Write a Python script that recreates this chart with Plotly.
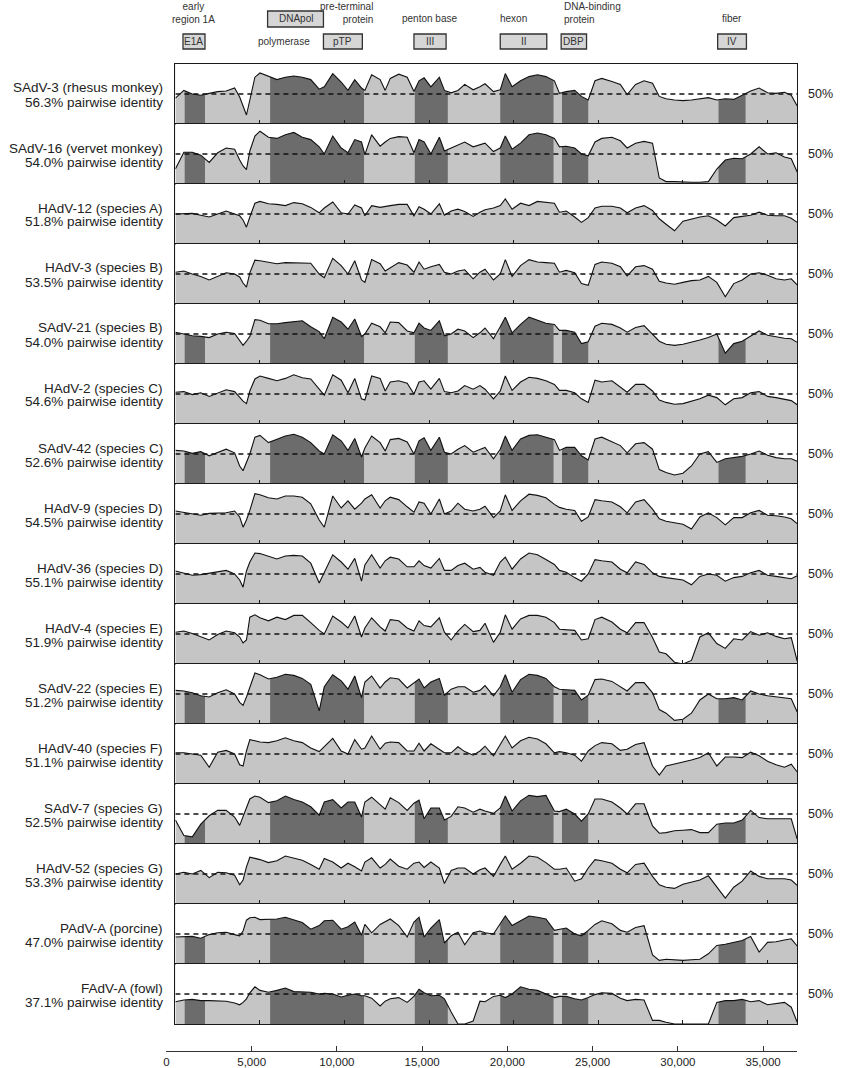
import plotly.graph_objects as go

W, H = 849, 1068
LIGHT = "#c5c5c5"
DARK = "#6c6c6c"
INK = "#1a1a1a"
FONT = "Arial, Liberation Sans, sans-serif"

# genome positions (bp) at which identity values were read
positions = [0, 500, 1000, 1500, 2000, 2500, 3000, 3500, 3800, 4000,
             4200, 4400, 4700, 5000, 5500, 6000, 6500, 7000, 7500, 8000,
             8500, 8800, 9300, 9800, 10200, 10600, 11000, 11200, 11600, 12100,
             12400, 12700, 13200, 13700, 14100, 14400, 14700, 15100, 15600, 15900,
             16300, 16700, 17100, 17600, 18000, 18300, 18800, 19200, 19500, 19900,
             20400, 20900, 21400, 21900, 22400, 22700, 23100, 23600, 24000, 24400,
             24800, 25200, 25800, 26300, 26700, 27200, 27700, 28200, 28600, 29000,
             29500, 30000, 30500, 31000, 31500, 32000, 32500, 33000, 33500, 34000,
             34500, 35000, 35500, 36000, 36400, 36750]

virus_names = ["SAdV-3 (rhesus monkey)", "SAdV-16 (vervet monkey)", "HAdV-12 (species A)",
               "HAdV-3 (species B)", "SAdV-21 (species B)", "HAdV-2 (species C)",
               "SAdV-42 (species C)", "HAdV-9 (species D)", "HAdV-36 (species D)",
               "HAdV-4 (species E)", "SAdV-22 (species E)", "HAdV-40 (species F)",
               "SAdV-7 (species G)", "HAdV-52 (species G)", "PAdV-A (porcine)", "FAdV-A (fowl)"]
pairwise_identity = [56.3, 54.0, 51.8, 53.5, 54.0, 54.6, 52.6, 54.5, 55.1, 51.9,
                     51.2, 51.1, 52.5, 53.3, 47.0, 37.1]
highlighted = [True, True, False, False, True, False, True, False, False, False,
               True, False, True, False, True, True]

sadv3 = [43,56,50,48,51,54,55,60,45,28, 15,40,78,85,80,74,78,80,78,74,
         58,62,84,70,56,74,60,56,82,74, 56,76,83,78,54,72,77,62,78,56,
         52,56,66,57,62,67,54,57,84,62, 72,79,82,79,72,51,54,56,46,40,
         72,76,71,66,49,66,72,68,46,42, 40,39,40,42,44,40,42,41,48,55,
         60,52,51,53,48,30]
sadv16 = [25,53,53,48,36,52,60,58,40,30, 24,55,80,88,78,76,82,86,78,74,
          62,50,80,60,52,74,70,49,82,63, 70,76,79,78,52,74,70,50,78,55,
          60,65,70,62,66,68,54,60,80,58, 68,82,85,82,76,62,63,60,50,47,
          70,76,78,72,60,68,71,68,10,4, 4,3,3,3,4,25,40,43,42,50,
          62,50,52,45,42,20]
hadv12 = [50,51,51,48,45,50,55,50,47,40, 28,45,68,71,67,66,64,69,67,61,
          52,60,70,52,50,65,60,47,64,61, 62,64,66,66,47,62,58,50,67,48,
          55,58,54,46,53,57,60,64,75,58, 68,64,71,70,68,53,55,45,36,44,
          60,63,63,60,52,60,64,56,42,33, 22,38,42,45,47,40,30,44,46,48,
          53,48,47,47,43,36]
hadv3 = [53,55,50,46,40,46,52,50,45,35, 28,52,73,72,69,67,69,69,69,68,
         50,44,76,64,50,72,40,36,74,67, 55,60,69,65,53,70,58,62,66,53,
         50,55,57,42,53,58,40,50,74,46, 64,74,70,69,68,53,56,52,34,31,
         66,70,68,62,47,62,64,58,38,35, 33,36,39,40,46,36,12,34,40,50,
         52,48,42,40,42,32]
sadv21 = [53,50,47,46,44,50,53,51,40,31, 38,46,74,73,67,67,69,71,72,62,
          54,42,78,70,58,75,46,50,68,62, 52,70,69,55,52,68,60,56,72,47,
          50,58,55,44,52,60,42,62,78,52, 66,78,73,68,66,56,56,53,34,37,
          63,68,66,60,53,61,64,50,38,33, 31,33,36,40,44,50,18,34,38,46,
          55,48,45,43,42,36]
hadv2 = [53,54,49,52,46,51,57,54,45,38, 34,55,75,80,76,72,76,82,77,75,
         58,48,82,73,52,76,42,40,80,76, 55,70,72,68,50,70,72,58,76,54,
         52,55,64,58,64,58,42,55,80,56, 70,78,76,72,66,56,56,52,42,36,
         73,70,72,62,53,66,66,55,40,36, 33,34,38,42,48,44,32,42,44,52,
         54,46,44,41,39,32]
sadv42 = [56,55,51,54,47,53,58,52,30,22, 35,50,78,81,69,75,80,83,78,69,
          55,50,82,72,56,76,45,60,80,69, 55,74,76,70,50,72,77,56,78,53,
          50,58,64,53,58,61,42,58,80,56, 75,81,82,78,74,56,61,61,47,40,
          75,78,70,64,52,67,69,58,24,19, 15,18,30,50,54,36,42,44,46,50,
          55,48,44,42,42,38]
hadv9 = [55,53,50,48,51,51,52,55,45,28, 40,56,84,82,77,75,80,80,78,67,
         40,28,80,60,72,58,68,75,82,60, 72,78,74,62,53,70,68,50,75,50,
         55,68,58,55,58,63,44,55,82,56, 72,83,81,77,66,61,58,56,38,45,
         74,72,70,62,52,70,74,58,42,38, 36,33,25,45,52,44,32,44,44,52,
         56,48,47,45,42,34]
hadv36 = [55,52,48,49,51,53,56,50,40,28, 55,70,85,84,79,75,80,81,80,68,
          35,52,82,70,58,76,38,65,82,60, 72,78,75,62,62,72,64,60,76,56,
          56,64,68,58,61,53,48,70,78,58, 75,85,82,74,66,56,53,44,38,50,
          74,72,70,58,52,70,66,52,46,44, 42,40,32,46,50,48,38,44,46,52,
          56,48,46,44,42,47]
hadv4 = [53,55,51,46,40,49,55,52,45,35, 40,78,82,77,72,78,74,81,81,69,
         56,50,80,70,60,80,45,60,77,62, 55,74,72,60,55,72,64,62,77,53,
         40,55,66,54,56,68,36,53,82,58, 75,81,81,78,69,58,57,56,40,42,
         74,78,70,58,52,69,69,44,20,17, 3,0,6,45,52,34,26,42,40,54,
         48,52,46,42,44,5]
sadv22 = [56,55,52,47,45,52,57,50,36,31, 45,62,85,82,75,78,83,81,76,66,
          22,62,82,72,58,80,44,70,80,60, 70,77,75,60,68,75,60,70,76,48,
          58,62,62,53,56,64,47,62,82,53, 74,83,81,76,62,58,57,56,40,48,
          74,75,71,62,55,69,69,52,24,18, 6,8,18,40,50,42,42,44,40,55,
          50,47,45,43,42,20]
hadv40 = [52,52,50,48,28,53,56,50,32,30, 55,74,72,70,69,72,77,72,69,60,
          54,62,76,55,50,74,58,60,80,58, 68,70,69,55,55,68,55,67,58,52,
          52,62,54,48,55,63,47,65,80,60, 72,78,75,67,52,54,52,48,38,55,
          64,69,67,56,58,66,69,30,15,30, 33,37,40,44,52,30,45,45,44,53,
          47,38,32,28,33,20]
sadv7 = [40,14,12,33,47,56,56,45,31,45, 58,75,80,78,69,72,80,74,70,62,
         48,70,74,60,70,70,45,70,78,66, 58,77,69,56,68,73,42,60,60,40,
         46,62,60,53,58,55,51,60,80,55, 72,81,79,81,55,54,58,50,38,50,
         75,75,70,60,50,67,67,30,18,19, 22,23,24,19,19,33,35,35,40,56,
         44,42,42,42,42,8]
hadv52 = [50,53,50,56,44,53,52,48,32,40, 62,78,76,74,69,72,80,76,73,66,
          58,76,70,60,68,62,55,70,77,60, 66,75,63,58,68,70,61,70,60,34,
          56,60,60,50,57,60,46,66,80,58, 68,80,78,69,58,58,60,38,42,60,
          74,72,68,58,52,66,68,46,32,28, 26,33,37,40,47,28,10,28,38,55,
          46,42,42,42,40,31]
padva = [45,46,46,43,49,52,53,49,47,55, 73,77,78,74,74,75,78,73,69,58,
         64,72,73,58,62,70,48,66,52,66, 70,75,64,45,70,78,45,60,74,35,
         47,53,32,52,55,52,50,66,80,64, 72,80,78,75,56,58,60,50,47,56,
         66,72,67,56,53,61,64,15,6,8, 7,6,7,8,17,31,33,36,39,46,
         20,36,37,40,42,30]
fadva = [37,40,41,39,39,39,38,35,32,36, 42,52,62,56,53,56,60,54,53,53,
         50,51,50,45,48,50,47,47,43,30, 38,42,44,36,46,58,52,47,48,42,
         20,0,0,5,38,37,46,48,44,50, 62,58,56,50,44,46,46,42,40,44,
         49,52,51,43,39,41,40,6,6,3, 0,0,0,0,0,36,39,39,41,37,
         39,32,34,36,28,3]

identity_series = [sadv3, sadv16, hadv12, hadv3, sadv21, hadv2, sadv42, hadv9,
                   hadv36, hadv4, sadv22, hadv40, sadv7, hadv52, padva, fadva]

# shaded gene regions (bp)
region_start = [550, 5600, 14150, 19200, 22850, 32100]
region_end = [1750, 11150, 16100, 22350, 24400, 33700]

# gene annotation boxes (bp)
gene_labels = ["E1A", "DNApol", "pTP", "III", "II", "DBP", "IV"]
gene_start = [450, 5450, 8750, 14100, 19200, 22800, 32050]
gene_end = [1750, 8750, 11050, 16000, 21950, 24300, 33750]

axis_ticks = [0, 5000, 10000, 15000, 20000, 25000, 30000, 35000]
axis_ticktext = ["0", "5,000", "10,000", "15,000", "20,000", "25,000", "30,000", "35,000"]

XEND = positions[-1]
for s in identity_series:
    assert len(s) == len(positions)

fig = go.Figure()
layout = {}
shapes = []
annotations = []

def py(p):
    return 1 - p / H

for i, vals in enumerate(identity_series):
    k = i + 1
    suf = "" if k == 1 else str(k)
    xa, ya = "x" + suf, "y" + suf
    top = 64 + 60 * i
    bot = top + 60
    layout["xaxis" + suf] = dict(domain=[173 / W, 797 / W], range=[0, XEND], anchor=ya,
                                 showline=True, mirror=True, linecolor=INK, linewidth=1.3,
                                 ticks="inside", ticklen=4, tickcolor=INK, tickwidth=1,
                                 tickvals=axis_ticks[1:], showticklabels=False,
                                 showgrid=False, zeroline=False, fixedrange=True)
    layout["yaxis" + suf] = dict(domain=[py(bot), py(top)], range=[0, 100], anchor=xa,
                                 showline=True, mirror=True, linecolor=INK, linewidth=1.3,
                                 ticks="", showticklabels=False, showgrid=False,
                                 zeroline=False, fixedrange=True)
    shapes.append(dict(type="rect", xref=xa, yref=ya, x0=0, x1=XEND, y0=0, y1=100,
                       fillcolor=LIGHT, line=dict(width=0), layer="below"))
    if highlighted[i]:
        for a, b in zip(region_start, region_end):
            shapes.append(dict(type="rect", xref=xa, yref=ya, x0=a, x1=b, y0=0, y1=100,
                               fillcolor=DARK, line=dict(width=0), layer="below"))
    # white mask above the identity curve
    fig.add_trace(go.Scatter(x=positions + [XEND, 0], y=vals + [100, 100], fill="toself",
                             fillcolor="white", mode="lines",
                             line=dict(width=0, color="rgba(0,0,0,0)"),
                             xaxis=xa, yaxis=ya, hoverinfo="skip", showlegend=False))
    fig.add_trace(go.Scatter(x=positions, y=vals, mode="lines",
                             line=dict(color="#111111", width=1.1),
                             xaxis=xa, yaxis=ya, showlegend=False))
    shapes.append(dict(type="line", xref=xa, yref=ya, x0=0, x1=XEND, y0=50, y1=50,
                       line=dict(color="#111111", width=1.3, dash="5px,4px"), layer="above"))
    annotations.append(dict(text=virus_names[i], xref="paper", yref="paper",
                            x=163 / W, y=py(top + 24), xanchor="right", yanchor="middle",
                            showarrow=False, font=dict(family=FONT, size=13.5, color="#222")))
    annotations.append(dict(text=f"{pairwise_identity[i]:.1f}% pairwise identity",
                            xref="paper", yref="paper", x=163 / W, y=py(top + 38),
                            xanchor="right", yanchor="middle", showarrow=False,
                            font=dict(family=FONT, size=13.5, color="#222")))
    annotations.append(dict(text="50%", xref="paper", yref="paper", x=806 / W,
                            y=py(top + 30), xanchor="left", yanchor="middle",
                            showarrow=False, font=dict(family=FONT, size=12.5, color="#222")))

# bottom genome axis (empty trace only to create the subplot)
fig.add_trace(go.Scatter(x=axis_ticks, y=[None] * len(axis_ticks), mode="lines",
                         xaxis="x17", yaxis="y17", hoverinfo="skip", showlegend=False))
layout["xaxis17"] = dict(domain=[164 / W, 797 / W], range=[0, 37000], anchor="y17",
                         showline=True, linecolor="#333", linewidth=1.2,
                         ticks="inside", ticklen=5, tickcolor="#333",
                         tickvals=axis_ticks, ticktext=axis_ticktext,
                         tickfont=dict(family=FONT, size=11.5, color="#222"),
                         showgrid=False, zeroline=False, fixedrange=True)
layout["yaxis17"] = dict(domain=[py(1051), py(1049)], anchor="x17", visible=False,
                         range=[0, 1], fixedrange=True)

# gene annotation boxes on top
for j, g in enumerate(gene_labels):
    if g == "DNApol":
        y0, y1 = 11, 27
    else:
        y0, y1 = 34, 49
    shapes.append(dict(type="rect", xref="x", yref="paper", x0=gene_start[j], x1=gene_end[j],
                       y0=py(y1), y1=py(y0), fillcolor="#d6d6d6",
                       line=dict(color="#333", width=1.3)))
    annotations.append(dict(text=g, xref="x", yref="paper",
                            x=(gene_start[j] + gene_end[j]) / 2, y=py((y0 + y1) / 2),
                            xanchor="center", yanchor="middle",
                            showarrow=False, font=dict(family=FONT, size=10, color="#333")))

top_labels = [("early<br>region 1A", 1100, 13, "center"),
              ("pre-terminal<br>protein", 10100, 13, "right"),
              ("penton base", 15000, 19, "center"),
              ("hexon", 20000, 19, "center"),
              ("fiber", 32900, 19, "center"),
              ("polymerase", 6400, 41, "center")]
for txt, xv, yv, al in top_labels:
    annotations.append(dict(text=txt, xref="x", yref="paper", x=xv, y=py(yv),
                            xanchor="center", yanchor="middle", align=al, showarrow=False,
                            font=dict(family=FONT, size=10, color="#333")))
annotations.append(dict(text="DNA-binding<br>protein", xref="x", yref="paper", x=22850,
                        y=py(13), xanchor="left", yanchor="middle", align="left",
                        showarrow=False, font=dict(family=FONT, size=10, color="#333")))

fig.update_layout(width=W, height=H, margin=dict(l=0, r=0, t=0, b=0),
                  paper_bgcolor="white", plot_bgcolor="white", showlegend=False,
                  shapes=shapes, annotations=annotations, **layout)

fig.write_html("out.html",
               config={"displayModeBar": False, "staticPlot": True},
               post_script="document.body.style.margin='0px';"
                           "document.body.style.overflow='hidden';")
